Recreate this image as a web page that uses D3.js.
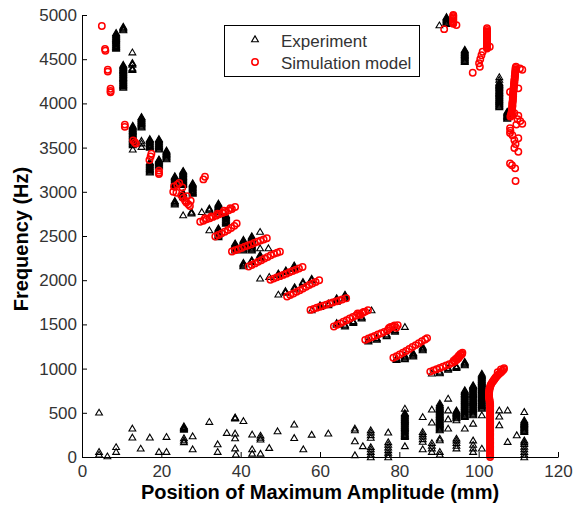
<!DOCTYPE html>
<html>
<head>
<meta charset="utf-8">
<script src="https://cdn.jsdelivr.net/npm/d3@7"></script>
<style>
  html, body { margin: 0; padding: 0; background: #fff; }
  svg { display: block; }
</style>
</head>
<body>
<svg id="chart" width="582" height="507"></svg>
<script>
// ---------- axis ticks ----------
const xTicks = [0, 20, 40, 60, 80, 100, 120];
const yTicks = [0, 500, 1000, 1500, 2000, 2500, 3000, 3500, 4000, 4500, 5000];
const seriesNames = ["Experiment", "Simulation model"];

// ---------- Experiment (triangles) ----------
// vertical stacks of measured points: [position mm, [frequencies Hz]]
const expStacks = [
  [8.6, [4620,4630,4640,4650,4660,4670,4680,4690,4700,4710,4720,4730,4740,4750,4760,4770,4780,4790,4800]],
  [10.4, [4830,4840,4850,4860,4870]],
  [10.4, [4180,4190,4200,4210,4220,4230,4240,4250,4260,4270,4280,4290,4300,4310,4320,4330,4340,4350,4360,4370,4380,4390,4400,4410,4420,4430,4440]],
  [12.7, [4380,4390,4400,4440,4450,4460]],
  [12.8, [3530,3540,3550,3560,3570,3580,3590,3600,3610,3620,3630,3640,3650,3660,3670,3680,3690,3700,3710,3720,3730,3740,3750]],
  [15.0, [3730,3740,3750,3760,3770,3780,3790,3800,3810,3820,3830,3840,3850]],
  [17.1, [3500,3510,3520,3530,3540,3550,3560,3570,3580,3590,3600]],
  [17.1, [3220,3230,3240,3250,3260,3270,3280,3290,3300,3310,3320,3330,3340]],
  [19.4, [3480,3490,3500,3510,3520,3530,3540,3550,3560,3570,3580,3590,3600]],
  [19.4, [3290,3300,3310,3320,3330,3340,3350,3360,3370]],
  [21.3, [3370,3380,3390,3400,3410,3420,3430,3440,3450,3460,3470]],
  [23.4, [3080,3090,3100,3110,3120,3130,3140,3150,3160,3170,3180]],
  [25.5, [3080,3090,3100,3110,3120,3130,3140,3150,3160,3170,3180,3190,3200,3210,3220,3230,3240]],
  [27.9, [2980,2990,3000,3010,3020,3030,3040,3050,3060,3070,3080,3090,3100]],
  [23.4, [2860,2870,2880,2890,2900]],
  [25.5, [2940,2950,2960,2970,2980,2990]],
  [27.6, [2756,2766,2776]],
  [32.1, [2794,2804,2815]],
  [34.4, [2770,2780,2790,2800,2810,2820,2830,2840,2850,2860,2870]],
  [36.3, [2640,2650,2660,2670,2680,2690,2700,2710,2720,2730,2740]],
  [34.4, [2490,2500,2510,2520,2530,2540,2550,2560,2570,2580,2590]],
  [38.6, [2340,2350,2360,2370,2380,2390,2400,2410,2420]],
  [40.7, [2340,2350,2360,2370,2380,2390,2400,2410,2420,2430,2440,2450,2460]],
  [42.8, [2340,2350,2360,2370,2380,2390,2400,2410,2420,2430,2440,2450,2460,2470,2480,2490,2500]],
  [40.7, [2160,2170,2180,2190,2200]],
  [42.8, [2210,2220,2230]],
  [44.9, [2250,2260,2270,2280,2290]],
  [49.5, [2060,2070,2080]],
  [51.4, [2096,2105,2115]],
  [53.5, [2130,2140,2150,2160,2170]],
  [51.3, [1860,1870,1880]],
  [53.6, [1900,1912,1925]],
  [55.7, [1963,1973,1983]],
  [57.9, [2000,2010,2020]],
  [60.0, [1700,1710,1720]],
  [62.1, [1720,1730,1740]],
  [64.2, [1760,1770,1780,1790,1800]],
  [66.3, [1800,1810,1820,1830,1840]],
  [64.2, [1500,1510,1520]],
  [66.3, [1480,1490,1500]],
  [68.4, [1520,1530,1540]],
  [70.5, [1570,1580,1590]],
  [72.2, [1310,1320,1330]],
  [74.3, [1330,1340,1350]],
  [76.8, [1370,1380,1390]],
  [78.9, [1420,1430,1440]],
  [79.3, [1100,1110,1120]],
  [81.4, [1110,1120,1130,1140,1150]],
  [83.5, [1140,1150,1160,1170,1180]],
  [85.9, [1210,1220,1230,1240,1250]],
  [90.2, [950,960,970]],
  [92.3, [990,1000,1010]],
  [94.4, [1010,1020,1030]],
  [96.5, [1040,1050,1060,1070,1080]],
  [91.9, [4900,4910,4920,4930,4940,4950,4960,4970,4980]],
  [96.5, [4470,4480,4490,4500,4510,4520,4530,4540,4550,4560,4570,4580,4590,4600,4610]],
  [105.2, [3960,3970,3980,3990,4000,4010,4020,4030,4040,4050,4060,4070,4080,4090,4100,4110,4120,4130,4140,4150,4160,4170,4180,4190,4200,4210,4220,4230,4240]],
  [107.2, [3830,3840,3850,3860,3870,3880,3890,3900,3910]],
  [25.7, [310,320,330,340,350]],
  [25.7, [170,190,215]],
  [38.6, [438,444,450]],
  [72.8, [220,250,280,305]],
  [72.8, [0,30,60,90,115]],
  [77.2, [0,25,50,80,110,140,170]],
  [81.4, [230,240,250,260,270,280,290,300,310,320,330,340,350,360,370,380,390,400,410,420,430,440,450,460,470,480,490,500]],
  [85.9, [175,205,235,260,285]],
  [88.2, [60,100,130,160]],
  [90.2, [305,315,325,335,345,355,365,375,385,395,405,415,425,435,445,455,465,475,485,495,505,515,525,535,545,555,565,575,585,595,610]],
  [90.2, [192,211]],
  [94.4, [440,450,460,470,480,490,500,510,520,530]],
  [94.4, [100,130,160,190,211]],
  [96.5, [455,465,475,485,495,505,515,525,535,545,555,565,575,585,595,605,615,625,635,645,655,665,675,685,695,705,715,725,738,748,758]],
  [98.6, [475,485,495,505,515,525,535,545,555,565,575,585,595,605,615,625,635,645,655,665,675,685,695,705,715,725,735,745,755,765,775,785,795,805,815]],
  [98.6, [60,100,140,190]],
  [100.8, [550,560,570,580,590,600,610,620,630,640,650,660,670,680,690,700,710,720,730,740,750,760,770,780,790,800,810,820,830,840,850,860,870,880,890,900,910,920,930,945]],
  [111.5, [285,295,305,315,325,335,345,355,365,375,385,395,405,418]],
  [111.5, [0,30,60,90,120,150,170,190]]
];
// isolated experiment points: [position mm, frequency Hz]
const expSingles = [
  [12.7,4580],[12.8,3480],[15.0,3510],[15.0,3550],[15.0,3580],
  [25.5,2737],[30.2,2774],[32.1,2567],[44.9,2550],[44.9,2364],[47.0,2364],
  [44.9,2021],[47.2,2040],[49.5,1840],
  [57.9,1662],[73.0,1662],[81.4,1474],[88.2,947],
  [90.1,4886],[105.2,4270],[105.2,4300],
  [4.3,505],[4.3,60],[4.3,30],[6.4,10],[8.6,115],[8.6,60],[12.7,325],[12.7,223],[14.8,98],[17.1,223],
  [19.4,60],[21.3,60],[21.3,230],[27.9,237],[27.9,90],[32.1,400],[34.2,147],[34.2,60],[36.5,275],
  [38.6,268],[38.6,215],[38.6,100],[38.8,30],[40.7,410],[42.9,257],[42.9,90],[42.9,40],[45.0,200],[45.0,222],
  [45.0,245],[45.0,40],[47.2,105],[49.3,294],[53.5,370],[53.5,218],[55.8,90],[57.9,255],[62.1,268],
  [68.8,305],[68.8,325],[68.8,181],[68.8,23],[70.8,125],[77.2,280],
  [81.4,550],[81.4,125],[85.9,455],[85.9,90],[88.2,540],[88.2,392],[90.2,30],[90.2,60],
  [92.3,663],[92.3,530],[92.3,430],[92.3,324],[94.4,418],[96.5,324],[98.6,380],[100.8,475],[100.8,98],
  [105.2,530],[105.2,460],[105.2,362],[107.3,530],[107.3,173],[109.6,249],[111.5,512]
];

// ---------- Simulation model (circles): [position mm, frequency Hz] ----------
const simBandHigh = [
  [5.0,4875],[5.8,4615],[5.9,4595],[6.5,4380],[6.5,4360],[7.2,4165],[7.2,4140],[7.2,4125],
  [10.8,3760],[10.8,3735],[12.9,3580],[13.3,3560],[13.6,3545],
  [17.0,3360],[17.3,3400],[17.5,3430],[19.4,3240],[19.4,3215],[19.4,3200],
  [23.0,3000],[23.2,3060],[23.8,2990],[24.0,3080],[24.5,3100],[25.0,2960],[25.3,3050],[25.5,2930],
  [26.0,2900],[26.3,2880],[26.8,2860],[27.2,2840],[27.4,2900],[26.5,2950],[30.6,3140],[31.0,3170]
];
const simBandRows = [
  // ~2700 row
  [29.8,2662],[30.6,2672],[31.4,2690],[32.2,2700],[33.0,2716],[33.8,2730],[34.6,2745],[35.4,2760],[36.2,2772],[37.0,2790],[37.8,2805],[38.6,2828],
  [31.0,2700],[32.6,2722],[34.2,2752],[35.8,2786],[37.4,2815],
  // ~2550 row
  [33.6,2495],[34.4,2512],[35.2,2530],[36.0,2548],[36.8,2568],[37.6,2590],[38.4,2615],[39.0,2642],
  // ~2400 row
  [37.8,2324],[38.6,2338],[39.4,2350],[40.2,2365],[41.0,2380],[41.8,2392],[42.6,2405],[43.4,2420],[44.2,2435],[45.0,2448],[45.8,2460],[46.6,2474],
  // ~2250 row
  [42.0,2155],[42.8,2172],[43.6,2190],[44.4,2208],[45.2,2225],[46.0,2245],[46.8,2262],[47.6,2282],[48.4,2298],[49.2,2310],[49.9,2322],
  // ~2080 row
  [47.5,2004],[48.3,2018],[49.1,2032],[49.9,2046],[50.7,2060],[51.5,2074],[52.3,2090],[53.1,2104],[53.9,2118],[54.7,2132],[55.6,2150],
  // ~1900 row
  [51.7,1815],[52.5,1833],[53.3,1850],[54.1,1868],[54.9,1885],[55.7,1905],[56.5,1925],[57.3,1945],[58.1,1962],[58.9,1980],[59.8,2000],
  // ~1730 row
  [57.6,1664],[58.4,1676],[59.2,1688],[60.0,1700],[60.8,1712],[61.6,1724],[62.4,1736],[63.2,1748],[64.0,1760],[64.8,1770],[65.6,1782],[66.6,1795],
  // ~1570 row
  [63.5,1476],[64.3,1495],[65.1,1512],[65.9,1530],[66.7,1548],[67.5,1566],[68.3,1584],[69.1,1600],[69.9,1620],[70.7,1630],[71.4,1645],[72.1,1660],
  [69.5,1624],[70.2,1610],[71.0,1640],
  // ~1400 row
  [71.4,1325],[72.2,1340],[73.0,1355],[73.8,1370],[74.6,1385],[75.4,1400],[76.2,1416],[77.0,1432],[77.4,1450],[77.8,1470],[78.4,1478],[79.2,1462],[79.6,1490],
  [77.4,1460],[78.8,1488],
  // ~1230 row
  [78.5,1122],[79.3,1140],[80.1,1160],[80.9,1180],[81.7,1200],[82.5,1222],[83.3,1244],[84.1,1266],[84.9,1286],[85.7,1310],[86.5,1330],[87.0,1345],
  // ~1050 row
  [87.8,966],[88.6,980],[89.4,994],[90.2,1008],[91.0,1022],[91.8,1036],[92.6,1050],[93.4,1066],[94.0,1080],[94.5,1100],[94.9,1118],[95.2,1136],[95.5,1152],[95.8,1166],[95.9,1180],
  [93.7,1090],[94.2,1110],[94.7,1128],[95.0,1146],[95.4,1166]
];
const simVertical = [
  [102.9,0],[102.9,15],[102.9,30],[102.9,45],[102.9,60],[102.9,75],[102.9,90],[102.9,105],[102.9,120],[102.9,135],[102.9,150],
  [102.9,165],[102.9,180],[102.9,195],[102.9,210],[102.9,225],[102.9,240],[102.9,255],[102.9,270],[102.9,285],[102.9,300],
  [102.9,315],[102.9,330],[102.9,345],[102.9,360],[102.9,375],[102.9,390],[102.9,405],[102.9,420],[102.9,435],[102.9,450],
  [102.9,465],[102.9,480],[102.9,495],[102.9,510],[102.9,525],[102.9,540],[102.9,555],[102.9,570],[102.9,585],[102.9,600],
  [102.8,615],[102.8,630],[102.7,645],[102.7,660],[102.6,675],[102.6,690],[102.6,705],[102.6,720],[102.6,735],[102.7,750],
  [102.7,765],[102.8,780],[102.9,795],[103.0,810],[103.1,822],[103.3,836],[103.5,850],[103.7,862],[103.9,875],[104.1,888],
  [104.3,900],[104.5,912],[104.8,925],[105.1,938],[105.4,950],[105.7,962],[106.0,975],[106.3,990],[104.8,960],[105.6,990],[106.4,1005]
];
const simTopRight = [
  [91.3,4840],[93.6,4900],[93.6,4915],[93.6,4930],[93.6,4945],[93.6,4960],[93.6,4975],[93.6,4990],[93.6,5000],[94.4,4886],
  [102.1,4620],[102.1,4635],[102.1,4650],[102.1,4665],[102.1,4680],[102.1,4695],[102.1,4710],[102.1,4725],[102.1,4740],[102.1,4755],
  [102.1,4770],[102.1,4785],[102.1,4800],[102.1,4815],[102.1,4830],[102.1,4850],
  [102.8,4640],[101.0,4584],[100.7,4545],[100.4,4500],[100.1,4455],[100.3,4414],[98.5,4347],
  [109.4,4414],[109.3,4400],[109.3,4385],[109.3,4370],[109.2,4355],[109.2,4340],[109.2,4325],[109.1,4310],[109.1,4295],[109.1,4280],
  [109.0,4265],[109.0,4250],[109.0,4235],[108.9,4220],[108.9,4205],[108.9,4190],[108.8,4175],[108.8,4160],[108.8,4145],[108.7,4130],
  [108.7,4115],[108.7,4100],[108.7,4085],[108.6,4070],[108.6,4055],[108.6,4040],[108.6,4025],[108.5,4010],[108.5,3995],[108.5,3980],
  [108.5,3965],[108.4,3950],[108.4,3935],[108.4,3920],[108.3,3905],[108.3,3890],[108.2,3875],[108.1,3860],[108.0,3850],
  [110.4,4395],[111.0,4380],[110.0,4170],[107.9,4130],
  [109.0,3890],[110.0,3860],[110.5,3800],[109.5,3760],[111.0,3770],[109.8,3820],
  [107.9,3720],[108.0,3690],[107.9,3665],[108.5,3640],[109.0,3585],[109.3,3540],[109.0,3495],[110.0,3605],[110.0,3453],
  [107.9,3320],[108.4,3300],[109.2,3265],[109.3,3122]
];

const expData = expSingles.concat(expStacks.flatMap(([px, fs]) => fs.map(f => [px, f])));
const simData = [].concat(simBandHigh, simBandRows, simVertical, simTopRight);

// ---------- drawing ----------
const svg = d3.select("#chart");
const W = 582, H = 507;
const margin = { left: 82, right: 24, top: 15, bottom: 50 };
const x = d3.scaleLinear().domain([0, 120]).range([margin.left, W - margin.right]);
const y = d3.scaleLinear().domain([0, 5000]).range([H - margin.bottom, margin.top]);

const FONT = "'Liberation Sans', Arial, Helvetica, sans-serif";
const triPath = "M0,-3.1L3.4,2.7L-3.4,2.7Z";

// experiment markers
svg.append("g").selectAll("path").data(expData).join("path")
  .attr("d", triPath)
  .attr("transform", d => `translate(${x(d[0])},${y(d[1])})`)
  .attr("fill", "none").attr("stroke", "#000").attr("stroke-width", 1.1);

// simulation markers
svg.append("g").selectAll("circle").data(simData).join("circle")
  .attr("cx", d => x(d[0])).attr("cy", d => y(d[1])).attr("r", 3.2)
  .attr("fill", "none").attr("stroke", "#ff0000").attr("stroke-width", 1.5);

// axes
const xAxis = d3.axisBottom(x).tickValues(xTicks).tickFormat(d3.format("d"))
  .tickSizeInner(-5).tickSizeOuter(0).tickPadding(8);
const yAxis = d3.axisLeft(y).tickValues(yTicks).tickFormat(d3.format("d"))
  .tickSizeInner(-5).tickSizeOuter(0).tickPadding(5);

const gx = svg.append("g").attr("transform", `translate(0,${y(0)})`).call(xAxis);
const gy = svg.append("g").attr("transform", `translate(${x(0)},0)`).call(yAxis);
[gx, gy].forEach(g => {
  g.select(".domain").attr("stroke", "#000").attr("stroke-width", 1);
  g.selectAll(".tick line").attr("stroke", "#000");
  g.selectAll(".tick text").attr("fill", "#333").style("font-family", FONT).style("font-size", "17px");
});

// axis titles
svg.append("text")
  .attr("x", x(60)).attr("y", 499)
  .attr("text-anchor", "middle")
  .style("font-family", FONT).style("font-size", "20px").style("font-weight", "bold")
  .attr("fill", "#000")
  .text("Position of Maximum Amplitude (mm)");

svg.append("text")
  .attr("transform", "translate(28,239) rotate(-90)")
  .attr("text-anchor", "middle")
  .style("font-family", FONT).style("font-size", "20px").style("font-weight", "bold")
  .attr("fill", "#000")
  .text("Frequency (Hz)");

// legend
const lg = svg.append("g");
lg.append("rect").attr("x", 224.5).attr("y", 25.5).attr("width", 195).attr("height", 51)
  .attr("fill", "#fff").attr("stroke", "#000").attr("stroke-width", 1);
lg.append("path").attr("d", triPath).attr("transform", "translate(255,39)")
  .attr("fill", "none").attr("stroke", "#000").attr("stroke-width", 1.1);
lg.append("circle").attr("cx", 255).attr("cy", 62).attr("r", 3.2)
  .attr("fill", "none").attr("stroke", "#ff0000").attr("stroke-width", 1.5);
lg.selectAll("text.lab").data(seriesNames).join("text").attr("class", "lab")
  .attr("x", 281).attr("y", (d, i) => 46.5 + i * 22)
  .style("font-family", FONT).style("font-size", "17px")
  .attr("fill", "#333")
  .text(d => d);
</script>
</body>
</html>
